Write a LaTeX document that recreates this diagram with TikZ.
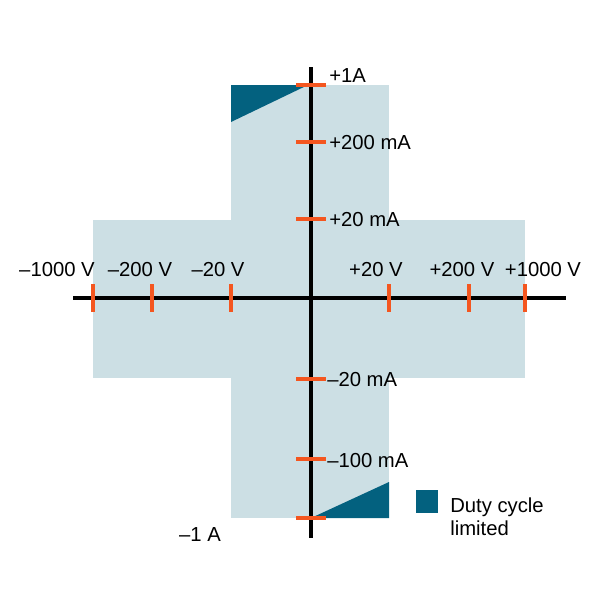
\documentclass[tikz,border=0pt]{standalone}
\usepackage{fontspec}
\setmainfont{Liberation Sans}
\begin{document}
\begin{tikzpicture}[x=0.75pt,y=-0.75pt,
  lab/.style={font=\fontsize{15.2}{17}\selectfont, inner sep=0pt},
  tick/.style={draw=tickorange, line width=2.5pt},
  axis/.style={draw=black, line width=2.5pt}]
\definecolor{lightfill}{HTML}{CCDFE4}
\definecolor{darkfill}{HTML}{03617F}
\definecolor{tickorange}{HTML}{F4561F}
\useasboundingbox (0,0) rectangle (600,600);
% light regions
\fill[lightfill] (93,220) rectangle (525,378);
\fill[lightfill] (231,85) rectangle (389,518);
% dark triangles
\fill[darkfill] (231,85) -- (308,85) -- (231,122) -- cycle;
\fill[darkfill] (311,518) -- (389,518) -- (389,482) -- cycle;
% axes
\coordinate (xl) at (73,298); \coordinate (xr) at (566,298);
\coordinate (yt) at (311,67); \coordinate (yb) at (311,538);
\draw[axis] (xl) -- (xr);
\draw[axis] (yt) -- (yb);
% vertical axis ticks
\foreach \y in {85,142,219,379,459,518} \draw[tick] (296,\y) -- (326,\y);
% horizontal axis ticks
\foreach \x in {93,152,231,389,469,525} \draw[tick] (\x,284) -- (\x,312);
% current labels
\node[lab,anchor=west] (i1) at (329,76) {+1A};
\node[lab,anchor=west] (i2) at (329,143) {+200 mA};
\node[lab,anchor=west] (i3) at (329,220) {+20 mA};
\node[lab,anchor=west] (i4) at (327,380) {–20 mA};
\node[lab,anchor=west] (i5) at (327,461) {–100 mA};
\node[lab] (i6) at (200,535) {–1 A};
% voltage labels
\node[lab] (v1) at (57,270) {–1000 V};
\node[lab] (v2) at (140,270) {–200 V};
\node[lab] (v3) at (218,270) {–20 V};
\node[lab] (v4) at (376,270) {+20 V};
\node[lab] (v5) at (462,270) {+200 V};
\node[lab] (v6) at (543,270) {+1000 V};
% legend
\fill[darkfill] (416,490) rectangle (438,513);
\node[lab,anchor=west,align=left] (leg) at (450,517) {Duty cycle\\limited};
\end{tikzpicture}
\end{document}
